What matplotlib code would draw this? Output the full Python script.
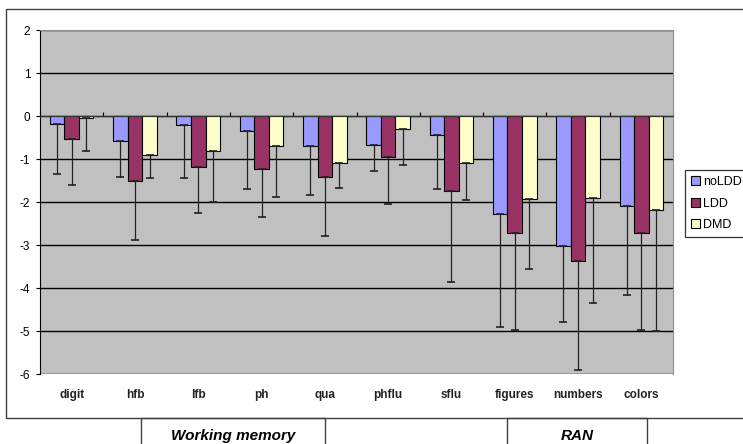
import numpy as np
import matplotlib
matplotlib.use("Agg")
import matplotlib.pyplot as plt
from matplotlib.patches import Rectangle

plt.rcParams["font.family"] = ["Liberation Sans", "DejaVu Sans"]
plt.rcParams["axes.unicode_minus"] = False

# data (means and lower error lengths)
categories = ["digit", "hfb", "lfb", "ph", "qua", "phflu", "sflu",
              "figures", "numbers", "colors"]
groups = ["noLDD", "LDD", "DMD"]

noldd_mean = [-0.18, -0.59, -0.21, -0.35, -0.69, -0.67, -0.44, -2.29, -3.02, -2.10]
noldd_err = [1.16, 0.83, 1.24, 1.35, 1.15, 0.62, 1.25, 2.62, 1.77, 2.06]
ldd_mean = [-0.53, -1.51, -1.19, -1.24, -1.43, -0.95, -1.75, -2.73, -3.38, -2.73]
ldd_err = [1.08, 1.37, 1.07, 1.12, 1.37, 1.10, 2.11, 2.24, 2.53, 2.24]
dmd_mean = [-0.05, -0.91, -0.81, -0.69, -1.10, -0.31, -1.10, -1.94, -1.91, -2.19]
dmd_err = [0.76, 0.54, 1.18, 1.20, 0.57, 0.84, 0.86, 1.62, 2.44, 2.80]

means = [noldd_mean, ldd_mean, dmd_mean]
errs = [noldd_err, ldd_err, dmd_err]
colors = ["#9999FF", "#993366", "#FFFFCC"]

fig = plt.figure(figsize=(7.43, 4.44), dpi=100)
ax = fig.add_axes([40 / 743, 1 - 374 / 444, 633 / 743, 344 / 444])
ax.set_facecolor("#C0C0C0")

x = np.arange(len(categories))
w = 0.23
for k in range(3):
    n = len(categories)
    ax.bar(x + (k - 1) * w, means[k], width=w, color=colors[k],
           edgecolor="black", linewidth=0.8, label=groups[k], zorder=3)
    ax.errorbar(x + (k - 1) * w, means[k], yerr=[errs[k], [0] * n],
                fmt="none", ecolor="#222222", elinewidth=0.9,
                capsize=3, capthick=1.2, zorder=4)

ax.set_xlim(-0.5, len(categories) - 0.5)
ax.set_ylim(-6, 2)
ax.set_yticks(range(-6, 3))
ax.yaxis.grid(True, color="black", linewidth=1, zorder=1)
ax.set_axisbelow(True)
ax.tick_params(axis="y", direction="out", length=3, labelsize=8.5, pad=4)

# category axis drawn through zero, labels below the plot
ax.spines["bottom"].set_position(("data", 0))
ax.spines["bottom"].set_color("#333333")
ax.spines["bottom"].set_zorder(5)
ax.set_xticks(np.arange(len(categories) + 1) - 0.5)
ax.tick_params(axis="x", direction="in", length=3, labelbottom=False)
for sp in ["top", "right"]:
    ax.spines[sp].set_color("#909090")
ax.spines["left"].set_color("black")
for i, c in enumerate(categories):
    ax.text(i, -0.061, c, transform=ax.get_xaxis_transform(), ha="center",
            va="center", fontsize=8.5, fontweight="bold", color="#222222")

leg = ax.legend(loc="upper left", bbox_to_anchor=(685 / 743, 1 - 170 / 444),
                bbox_transform=fig.transFigure, fontsize=9, frameon=True,
                fancybox=False, edgecolor="black", handlelength=0.7,
                handleheight=0.7, handletextpad=0.25, borderpad=0.5,
                labelspacing=0.75, borderaxespad=0)
leg.get_frame().set_linewidth(0.9)
for h in leg.legend_handles:
    h.set_edgecolor("black")

# outer chart frame and group boxes
fig.patches.append(Rectangle((6 / 743, 1 - 418 / 444), 1.0, 409 / 444,
                             transform=fig.transFigure, fill=False,
                             edgecolor="#404040", linewidth=1))
for x0, x1, label in [(141, 325, "Working memory"), (507, 647, "RAN")]:
    fig.patches.append(Rectangle((x0 / 743, -0.05), (x1 - x0) / 743,
                                 0.05 + 1 - 418 / 444,
                                 transform=fig.transFigure, fill=False,
                                 edgecolor="#404040", linewidth=1))
    fig.text((x0 + x1) / 2 / 743, 1 - 429 / 444, label, ha="center",
             va="top", fontsize=11, fontweight="bold", fontstyle="italic")

fig.savefig("out.png", dpi=100)
